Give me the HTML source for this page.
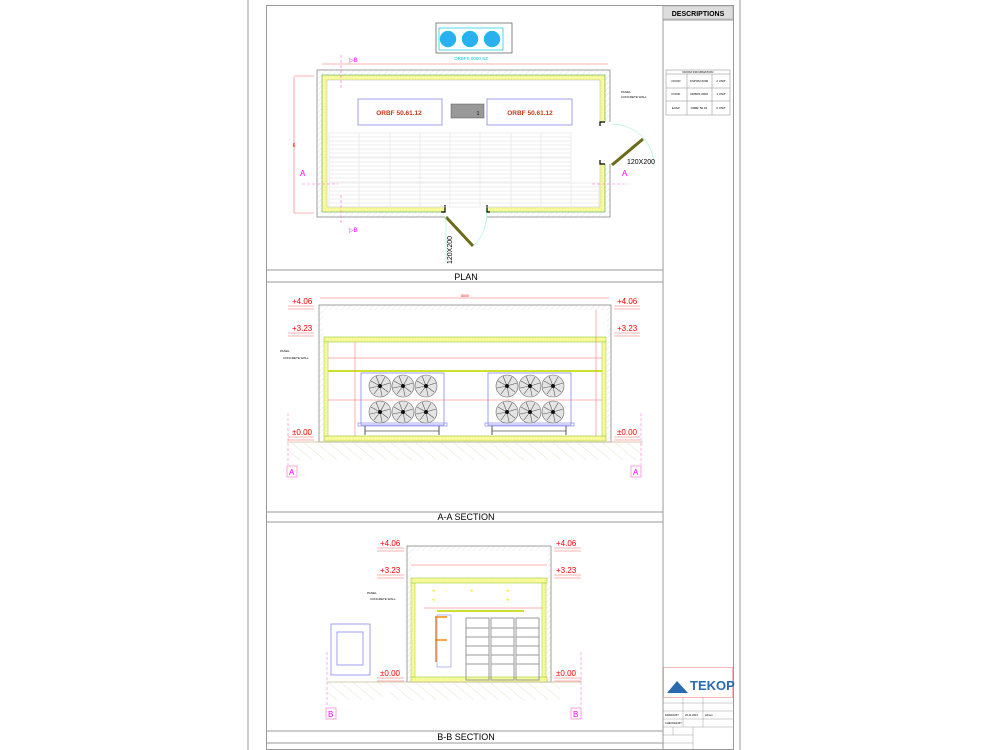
<!DOCTYPE html>
<html><head><meta charset="utf-8"><style>
html,body{margin:0;padding:0;background:#fff}
svg{display:block;font-family:"Liberation Sans",sans-serif}
</style></head><body>
<svg width="1000" height="750" viewBox="0 0 1000 750" xmlns="http://www.w3.org/2000/svg">
<defs>
<pattern id="hat" width="4" height="4" patternUnits="userSpaceOnUse" patternTransform="rotate(45)"><line x1="0" y1="0" x2="0" y2="4" stroke="#ccc" stroke-width="0.5"/></pattern>
<pattern id="ins" width="3" height="3" patternUnits="userSpaceOnUse"><rect width="3" height="3" fill="#f8fa9c"/><circle cx="1.5" cy="1.5" r="0.4" fill="#dde080"/></pattern>
<pattern id="gnd" width="8" height="8" patternUnits="userSpaceOnUse" patternTransform="rotate(-50)"><line x1="0" y1="0" x2="0" y2="8" stroke="#ddd6ba" stroke-width="0.7"/></pattern>
<g id="fan"><circle r="11" fill="#e4e4e4" stroke="#666" stroke-width="0.6"/><path d="M0,0 L-9,-5 M0,0 L-4,-10 M0,0 L5,-9 M0,0 L10,-3 M0,0 L8,6 M0,0 L2,10 M0,0 L-6,8 M0,0 L-10,2" stroke="#555" stroke-width="0.6"/><circle r="2" fill="#111"/></g>
<g id="fanunit"><rect x="0" y="0" width="83" height="52" fill="none" stroke="#8888ee" stroke-width="0.8"/><rect x="-3" y="50" width="89" height="3" fill="none" stroke="#8888ee" stroke-width="0.7"/>
<use href="#fan" x="19" y="13"/><use href="#fan" x="42" y="13"/><use href="#fan" x="65" y="13"/>
<use href="#fan" x="19" y="39"/><use href="#fan" x="42" y="39"/><use href="#fan" x="65" y="39"/>
<line x1="4" y1="53" x2="4" y2="62" stroke="#555"/><line x1="78" y1="53" x2="78" y2="62" stroke="#555"/><line x1="4" y1="58" x2="78" y2="58" stroke="#555" stroke-width="0.8"/></g>
</defs>

<line x1="248" y1="0" x2="248" y2="750" stroke="#999" stroke-width="1"/>
<line x1="740" y1="0" x2="740" y2="750" stroke="#999" stroke-width="1"/>
<rect x="266.5" y="5.5" width="467" height="744" fill="none" stroke="#999"/>
<line x1="663" y1="5" x2="663" y2="750" stroke="#999"/>
<rect x="663" y="6" width="70" height="13" fill="#ddd" stroke="#999" stroke-width="0.5"/>
<text x="698" y="16" font-size="7" font-weight="bold" text-anchor="middle">DESCRIPTIONS</text>
<line x1="663" y1="20" x2="733" y2="20" stroke="#999"/>
<g stroke="#888" stroke-width="0.5" fill="none"><rect x="666" y="70" width="64" height="45"/><line x1="666" y1="74" x2="730" y2="74"/><line x1="666" y1="88" x2="730" y2="88"/><line x1="666" y1="101" x2="730" y2="101"/><line x1="687" y1="74" x2="687" y2="115"/><line x1="712" y1="74" x2="712" y2="115"/></g>
<g font-size="3" text-anchor="middle"><text x="698" y="73">ROOM INFORMATION</text><text x="676" y="82">DOOR</text><text x="699" y="82">KSPOM 0000</text><text x="721" y="82">2 UNIT</text><text x="676" y="95">COND.</text><text x="699" y="95">ORBFS 0000</text><text x="721" y="95">1 UNIT</text><text x="676" y="109">EVAP.</text><text x="699" y="109">ORBF 50.61</text><text x="721" y="109">2 UNIT</text></g>

<g stroke="#999"><line x1="266" y1="270" x2="663" y2="270"/><line x1="266" y1="282" x2="663" y2="282"/><line x1="266" y1="512" x2="663" y2="512"/><line x1="266" y1="522" x2="663" y2="522"/><line x1="266" y1="731" x2="663" y2="731"/><line x1="266" y1="743" x2="663" y2="743"/></g>
<g font-size="9" text-anchor="middle" fill="#000"><text x="466" y="280">PLAN</text><text x="466" y="520">A-A SECTION</text><text x="466" y="740">B-B SECTION</text></g>

<!-- PLAN -->
<rect x="436" y="23" width="76" height="30" fill="none" stroke="#555" stroke-width="0.7"/>
<rect x="439" y="28" width="64" height="22" fill="none" stroke="#00c8e0" stroke-width="0.7"/>
<g fill="#2ab0ef" stroke="#00c8e0" stroke-width="0.5"><circle cx="448" cy="39" r="8"/><circle cx="470" cy="39" r="8"/><circle cx="492" cy="39" r="8"/></g>
<text x="471" y="60" font-size="4.5" fill="#00c8e0" text-anchor="middle">ORBFS 0000 SZ</text>
<line x1="322" y1="64" x2="608" y2="64" stroke="#f66" stroke-width="0.6"/>
<line x1="294" y1="77" x2="294" y2="213" stroke="#f66" stroke-width="0.6"/>
<line x1="294" y1="76" x2="314" y2="76" stroke="#f66" stroke-width="0.5"/><line x1="294" y1="213" x2="314" y2="213" stroke="#f66" stroke-width="0.5"/>
<text x="294" y="147" font-size="5" fill="red" text-anchor="middle">6</text>
<rect x="317" y="70" width="293" height="147" fill="url(#hat)" stroke="#888" stroke-width="0.8"/>
<rect x="322" y="75" width="283" height="137" fill="url(#ins)" stroke="#5a5" stroke-width="0.6"/>
<rect x="327" y="80" width="273" height="127" fill="#fff" stroke="#aaa" stroke-width="0.4"/>
<rect x="445" y="205" width="42" height="14" fill="#fff"/>
<rect x="597" y="122" width="16" height="42" fill="#fff"/>
<path d="M445,205 v7 h-4 M487,205 v7 h3" stroke="#000" fill="none" stroke-width="1.2"/>
<path d="M605,122 h-5 v4 M605,164 h-5 v-4" stroke="#000" fill="none" stroke-width="1.2"/>
<line x1="446" y1="217" x2="473" y2="246" stroke="#6b6b1a" stroke-width="3"/>
<path d="M473,246 A40,40 0 0 0 486,210" fill="none" stroke="#8ee8d0" stroke-width="0.5"/>
<line x1="446" y1="217" x2="446" y2="262" stroke="#8ee8d0" stroke-width="0.5"/>
<text x="452" y="250" font-size="7" transform="rotate(-90 452 250)" text-anchor="middle">120X200</text>
<line x1="612" y1="165" x2="643" y2="139" stroke="#6b6b1a" stroke-width="3"/>
<path d="M612,124 A42,42 0 0 1 654,166" fill="none" stroke="#8ee8d0" stroke-width="0.5"/>
<text x="627" y="164" font-size="7">120X200</text>
<g stroke="#8888ee" stroke-width="0.8" fill="#fff"><rect x="358" y="99" width="84" height="26"/><rect x="487" y="99" width="85" height="26"/></g>
<g font-size="6.5" font-weight="bold" fill="#c83a1a" text-anchor="middle"><text x="399" y="115">ORBF 50.61.12</text><text x="530" y="115">ORBF 50.61.12</text></g>
<rect x="451" y="104" width="33" height="14" fill="#999" stroke="#555" stroke-width="0.5"/>
<text x="478" y="115" font-size="5" text-anchor="middle">1</text>
<g stroke="#ddd" stroke-width="0.5" fill="none">
<rect x="329" y="133" width="242" height="24"/><rect x="329" y="158" width="242" height="24"/><rect x="329" y="183" width="270" height="24"/>
<path d="M359,133v74M390,133v74M420,133v74M450,133v74M480,133v74M511,133v74M541,133v74M571,183v24"/>
<path d="M329,137h242M329,141h242M329,145h242M329,149h242M329,153h242M329,162h242M329,166h242M329,170h242M329,174h242M329,178h242M329,187h270M329,191h270M329,195h270M329,199h270M329,203h270"/>
</g>
<g stroke="#f6c" stroke-width="0.6" stroke-dasharray="3,2"><line x1="341" y1="55" x2="341" y2="90"/><line x1="341" y1="195" x2="341" y2="225"/><line x1="302" y1="184" x2="338" y2="184"/><line x1="592" y1="184" x2="628" y2="184"/></g>
<g fill="#f0f" font-size="8"><text x="300" y="176">A</text><text x="622" y="176">A</text><text x="349" y="62" font-size="6">▷B</text><text x="349" y="232" font-size="6">▷B</text></g>
<g font-size="3"><text x="621" y="93">PANEL</text><text x="621" y="98">CONCRETE WALL</text></g>

<!-- A-A -->
<line x1="320" y1="298" x2="609" y2="298" stroke="#f66" stroke-width="0.5"/>
<text x="465" y="297" font-size="3.5" fill="red" text-anchor="middle">8000</text>
<rect x="319" y="305" width="292" height="137" fill="url(#hat)" stroke="#888" stroke-width="0.8"/>
<rect x="323" y="310" width="284" height="132" fill="#fff"/>
<rect x="324" y="337" width="282" height="5" fill="url(#ins)" stroke="#9c3" stroke-width="0.6"/>
<rect x="324" y="436" width="282" height="5" fill="url(#ins)" stroke="#9c3" stroke-width="0.6"/>
<rect x="324" y="342" width="4" height="94" fill="url(#ins)" stroke="#9c3" stroke-width="0.5"/>
<rect x="602" y="342" width="4" height="94" fill="url(#ins)" stroke="#9c3" stroke-width="0.5"/>
<line x1="328" y1="371" x2="602" y2="371" stroke="#cde030" stroke-width="2"/>
<g stroke="#f66" stroke-width="0.5"><line x1="328" y1="358" x2="602" y2="358"/><line x1="328" y1="400" x2="602" y2="400"/><line x1="596" y1="310" x2="596" y2="436"/><line x1="355" y1="342" x2="355" y2="436"/></g>
<use href="#fanunit" x="361" y="373"/><use href="#fanunit" x="488" y="373"/>
<rect x="287" y="442" width="356" height="18" fill="url(#gnd)"/>
<line x1="287" y1="442" x2="643" y2="442" stroke="#cb9" stroke-width="0.8"/>
<g font-size="8" fill="red"><text x="292" y="304">+4.06</text><text x="292" y="331">+3.23</text><text x="292" y="435">±0.00</text><text x="617" y="304">+4.06</text><text x="617" y="331">+3.23</text><text x="617" y="435">±0.00</text></g>
<g stroke="#f66" stroke-width="0.5"><path d="M288,306h26M288,309h26M288,333h26M288,336h26M288,437h26M288,440h26M614,306h26M614,309h26M614,333h26M614,336h26M614,437h26M614,440h26"/></g>
<g font-size="3"><text x="280" y="352">PANEL</text><text x="283" y="359">CONCRETE WALL</text></g>
<g stroke="#f6c" stroke-dasharray="3,2" stroke-width="0.5"><line x1="288" y1="413" x2="288" y2="465"/><line x1="641" y1="413" x2="641" y2="465"/></g>
<g fill="none" stroke="#f6c" stroke-width="0.6"><rect x="287" y="466" width="10" height="11"/><rect x="631" y="466" width="10" height="11"/></g>
<g fill="#f0f" font-size="8"><text x="289" y="475">A</text><text x="633" y="475">A</text></g>

<!-- B-B -->
<rect x="407" y="546" width="144" height="136" fill="url(#hat)" stroke="#888" stroke-width="0.8"/>
<rect x="411" y="551" width="136" height="131" fill="#fff"/>
<rect x="411" y="578" width="136" height="5" fill="url(#ins)" stroke="#9c3" stroke-width="0.6"/>
<rect x="411" y="677" width="136" height="5" fill="url(#ins)" stroke="#9c3" stroke-width="0.6"/>
<rect x="411" y="583" width="4" height="94" fill="url(#ins)" stroke="#9c3" stroke-width="0.5"/>
<rect x="542" y="583" width="4" height="94" fill="url(#ins)" stroke="#9c3" stroke-width="0.5"/>
<line x1="411" y1="565" x2="547" y2="565" stroke="#f66" stroke-width="0.5"/>
<line x1="424" y1="608" x2="542" y2="608" stroke="#f66" stroke-width="0.5"/>
<line x1="437" y1="611" x2="524" y2="611" stroke="#cde030" stroke-width="2"/>
<path d="M435,617h12M435,640h12" stroke="#f80" stroke-width="1.5"/><line x1="436" y1="617" x2="436" y2="662" stroke="#f80" stroke-width="1.5"/>
<rect x="437" y="615" width="14" height="52" fill="none" stroke="#88e" stroke-width="0.6"/>
<g fill="none" stroke="#999" stroke-width="1"><rect x="466" y="618" width="23" height="62"/><rect x="491" y="618" width="23" height="62"/><rect x="516" y="618" width="23" height="62"/>
<path d="M466,628h23M466,637h23M466,646h23M466,655h23M466,664h23M491,628h23M491,637h23M491,646h23M491,655h23M491,664h23M516,628h23M516,637h23M516,646h23M516,655h23M516,664h23"/></g>
<g fill="#ee0" font-size="5"><text x="432" y="592">◂</text><text x="470" y="592">◂</text><text x="506" y="592">◂</text><text x="432" y="601">◂</text><text x="506" y="601">◂</text></g>
<g fill="none" stroke="#88e" stroke-width="0.8"><rect x="331" y="624" width="39" height="51"/><rect x="337" y="632" width="26" height="33"/></g>
<rect x="327" y="682" width="56" height="18" fill="url(#gnd)"/><rect x="390" y="682" width="170" height="18" fill="url(#gnd)"/>
<line x1="327" y1="682" x2="582" y2="682" stroke="#cb9" stroke-width="0.8"/>
<g font-size="8" fill="red"><text x="380" y="546">+4.06</text><text x="380" y="573">+3.23</text><text x="380" y="676">±0.00</text><text x="556" y="546">+4.06</text><text x="556" y="573">+3.23</text><text x="556" y="676">±0.00</text></g>
<g stroke="#f66" stroke-width="0.5"><path d="M377,548h27M377,551h27M377,575h27M377,578h27M377,678h27M377,681h27M554,548h27M554,551h27M554,575h27M554,578h27M554,678h27M554,681h27"/></g>
<g font-size="3"><text x="367" y="594">PANEL</text><text x="370" y="600">CONCRETE WALL</text></g>
<g stroke="#f6c" stroke-dasharray="3,2" stroke-width="0.5"><line x1="327" y1="652" x2="327" y2="705"/><line x1="581" y1="652" x2="581" y2="705"/></g>
<g fill="none" stroke="#f6c" stroke-width="0.6"><rect x="326" y="708" width="10" height="11"/><rect x="571" y="708" width="10" height="11"/></g>
<g fill="#f0f" font-size="8"><text x="328" y="717">B</text><text x="573" y="717">B</text></g>

<!-- title block -->
<rect x="663.5" y="667.5" width="69" height="30" fill="none" stroke="#e88" stroke-width="0.6"/>
<path d="M667,693 L677,681 L688,693 Z" fill="#2a6ab0"/>
<text x="690" y="690" font-size="13" font-weight="bold" fill="#2a6ab0">TEKOP</text>
<g stroke="#888" stroke-width="0.4"><path d="M663,703h70M663,711h70M663,719h70M663,727h70M663,735h30M663,743h30M683,697v30M703,697v30M673,727v8M693,727v23"/></g>
<g font-size="2.6"><text x="665" y="716">DRAWN BY</text><text x="665" y="724">CHECKED BY</text><text x="685" y="716">26.11.2024</text><text x="705" y="716">Ahmet</text></g>
</svg>
</body></html>
